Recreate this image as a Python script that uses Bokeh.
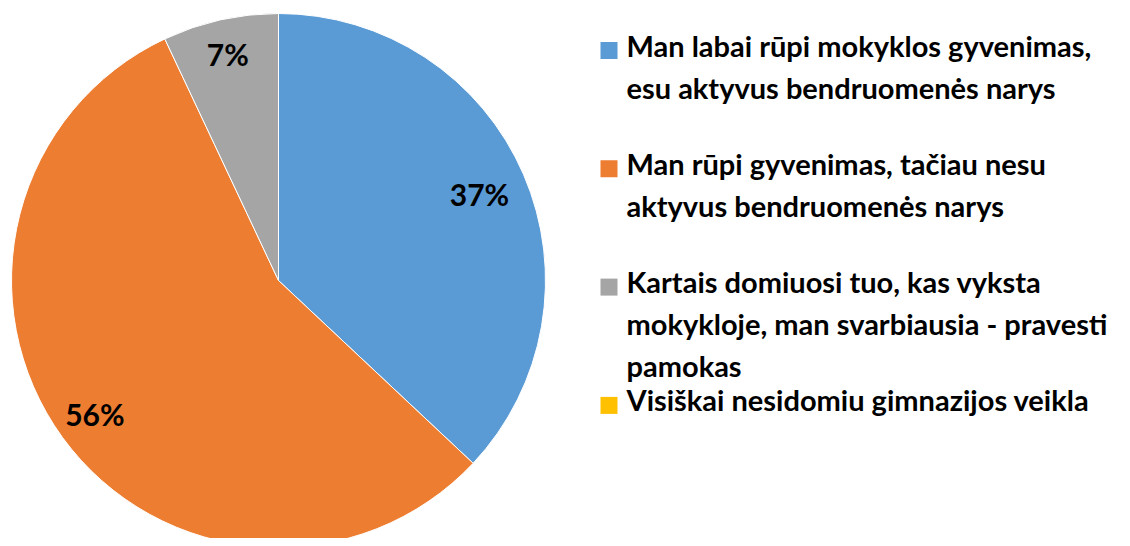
import math
from bokeh.plotting import figure
from bokeh.models import Range1d, ColumnDataSource
from bokeh.core.properties import value
from bokeh.embed import file_html
from bokeh.resources import INLINE

categories = [
    "Man labai rūpi mokyklos gyvenimas,\nesu aktyvus bendruomenės narys",
    "Man rūpi gyvenimas, tačiau nesu\naktyvus bendruomenės narys",
    "Kartais domiuosi tuo, kas vyksta\nmokykloje, man svarbiausia - pravesti\npamokas",
    "Visiškai nesidomiu gimnazijos veikla",
]
values = [37, 56, 7, 0]
pct_labels = ["37%", "56%", "7%", ""]
colors = ["#5B9BD5", "#ED7D31", "#A5A5A5", "#FFC000"]

W, H = 1122, 538
p = figure(width=W, height=H, output_backend="svg", toolbar_location=None,
           x_range=Range1d(0, W), y_range=Range1d(8, 8 + H), min_border=0)
p.axis.visible = False
p.grid.visible = False
p.outline_line_color = None

cx, cy, R = 278, 546 - 280, 267
total = sum(values)
starts, ends, mids = [], [], []
acc = 0.0
for v in values:
    a0 = math.pi / 2 - 2 * math.pi * acc / total
    acc += v
    a1 = math.pi / 2 - 2 * math.pi * acc / total
    starts.append(a0)
    ends.append(a1)
    mids.append((a0 + a1) / 2)

nz = [i for i, v in enumerate(values) if v > 0]
src = ColumnDataSource(dict(start=[starts[i] for i in nz], end=[ends[i] for i in nz],
                            color=[colors[i] for i in nz]))
p.wedge(x=cx, y=cy, radius=R, start_angle="start", end_angle="end", direction="clock",
        fill_color="color", line_color="white", line_width=1, source=src)

label_r = [0.82, 0.85, 0.87, 0.8]
lx = [cx + R * label_r[i] * math.cos(mids[i]) for i in nz]
ly = [cy + R * label_r[i] * math.sin(mids[i]) for i in nz]
p.text(x=lx, y=ly, text=[pct_labels[i] for i in nz], text_font=value("Lato"), text_font_style="bold",
       text_font_size="30px", text_align="center", text_baseline="middle", text_color="black")

# legend
leg_x, leg_y0, leg_dy, sq = 608.5, 546 - 50, 118.3, 17
ys = [leg_y0 - i * leg_dy for i in range(len(categories))]
p.rect(x=[leg_x] * len(categories), y=ys, width=sq, height=sq, fill_color=colors, line_color=None)
p.text(x=[626] * len(categories), y=[y + 23 for y in ys], text=categories,
       text_font=value("Lato"), text_font_style="bold", text_font_size="29px",
       text_align="left", text_baseline="top", text_color="black", text_line_height=1.2)

open("out.html", "w").write(file_html(p, INLINE))
